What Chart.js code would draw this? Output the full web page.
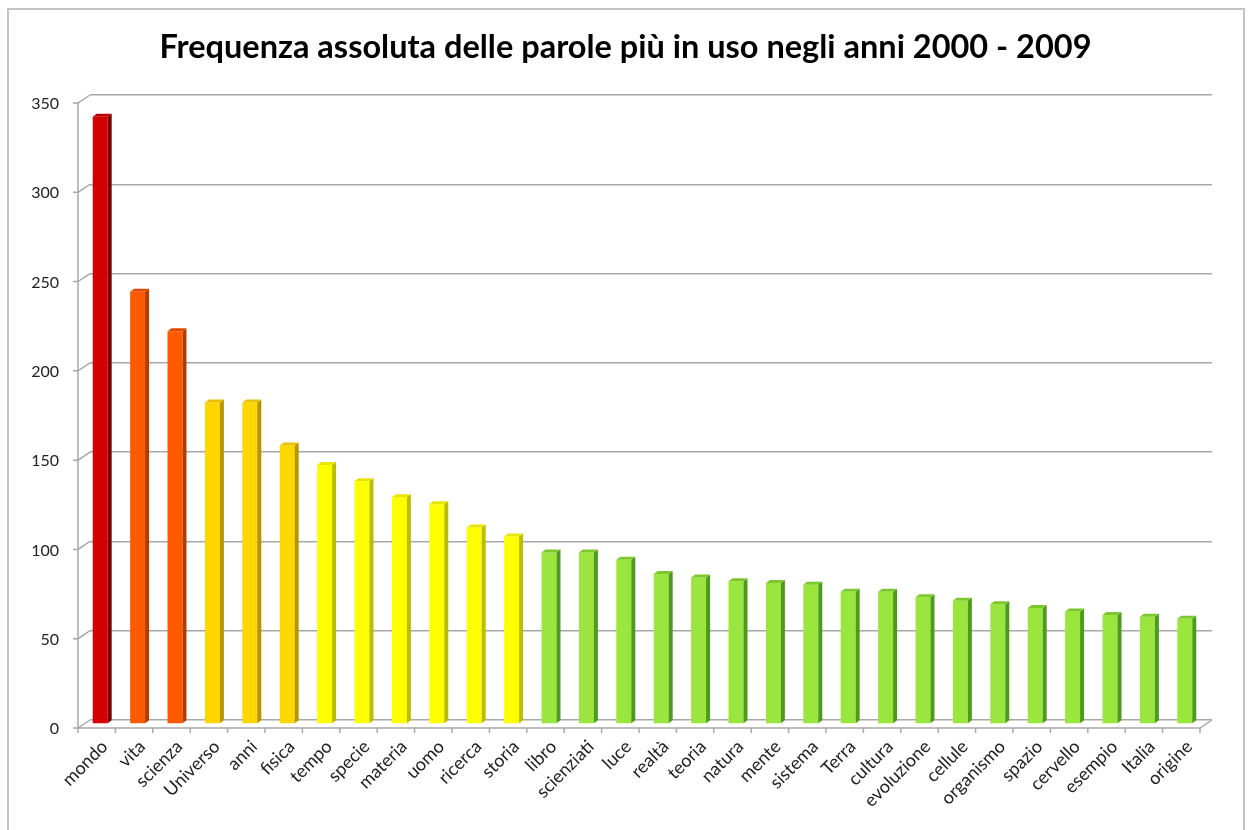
<!DOCTYPE html>
<html>
<head>
<meta charset="utf-8">
<script src="https://cdn.jsdelivr.net/npm/chart.js@4.4.1/dist/chart.umd.min.js"></script>
<style>
html,body{margin:0;padding:0;background:#fff;}
#wrap{width:1251px;height:830px;position:relative;}
</style>
</head>
<body>
<div id="wrap"><canvas id="c" width="1251" height="830"></canvas></div>
<script>
const titleText = 'Frequenza assoluta delle parole più in uso negli anni 2000 - 2009';
const categories = ['mondo','vita','scienza','Universo','anni','fisica','tempo','specie','materia','uomo','ricerca','storia','libro','scienziati','luce','realtà','teoria','natura','mente','sistema','Terra','cultura','evoluzione','cellule','organismo','spazio','cervello','esempio','Italia','origine'];
const frequencies = [340,242,220,180,180,156,145,136,127,123,110,105,96,96,92,84,82,80,79,78,74,74,71,69,67,65,63,61,60,59];
const colorGroup = [0,1,1,2,2,2,3,3,3,3,3,3,4,4,4,4,4,4,4,4,4,4,4,4,4,4,4,4,4,4];
const yTicks = [0,50,100,150,200,250,300,350];

const palette = [
  {front:'#d60000', side:'#7c0000', top:'#b80000'},
  {front:'#ff5a00', side:'#b33c00', top:'#e04a00'},
  {front:'#ffd700', side:'#b89400', top:'#e8c000'},
  {front:'#ffff00', side:'#bdbd00', top:'#e6e600'},
  {front:'#9be63e', side:'#4e9a1c', top:'#7cc82c'}
];

const WALL_DX = 12, WALL_DY = 8;
const BAR_DX = -8.5, BAR_DY = 4;
const SIDE_W = 4, CAP_H = 3;

const frame3d = {
  id: 'frame3d',
  beforeDraw(chart) {
    const ctx = chart.ctx;
    ctx.save();
    ctx.fillStyle = '#ffffff';
    ctx.fillRect(0, 0, chart.width, chart.height);
    ctx.strokeStyle = '#c4c4c4';
    ctx.lineWidth = 2;
    ctx.strokeRect(8, 9, 1236, 840);
    ctx.restore();
  },
  beforeDatasetsDraw(chart) {
    const ctx = chart.ctx, a = chart.chartArea, ys = chart.scales.y;
    ctx.save();
    ctx.strokeStyle = '#a8a8a8';
    ctx.lineWidth = 1.5;
    const fl = a.left - WALL_DX;
    ctx.beginPath();
    ctx.moveTo(fl, ys.getPixelForValue(350) + WALL_DY);
    ctx.lineTo(fl, ys.getPixelForValue(0) + WALL_DY);
    ctx.stroke();
    yTicks.forEach(v => {
      const y = ys.getPixelForValue(v);
      ctx.beginPath();
      ctx.moveTo(fl - 5, y + WALL_DY);
      ctx.lineTo(fl, y + WALL_DY);
      ctx.lineTo(a.left, y);
      ctx.stroke();
    });
    const yb = ys.getPixelForValue(0);
    ctx.beginPath();
    ctx.moveTo(fl, yb + WALL_DY);
    ctx.lineTo(a.right - WALL_DX, yb + WALL_DY);
    ctx.lineTo(a.right, yb);
    ctx.stroke();
    const n = categories.length;
    const step = (a.right - a.left) / n;
    for (let k = 0; k <= n; k++) {
      const x = fl + k * step;
      ctx.beginPath();
      ctx.moveTo(x, yb + WALL_DY);
      ctx.lineTo(x, yb + WALL_DY + 5);
      ctx.stroke();
    }
    ctx.restore();
    ctx.save();
    ctx.translate(BAR_DX, BAR_DY);
  },
  afterDatasetsDraw(chart) {
    const ctx = chart.ctx;
    const meta = chart.getDatasetMeta(0);
    meta.data.forEach((bar, i) => {
      const p = palette[colorGroup[i]];
      const half = bar.width / 2;
      const l = bar.x - half, r = bar.x + half, t = bar.y, b = bar.base;
      ctx.fillStyle = p.side;
      ctx.beginPath();
      ctx.moveTo(r, t);
      ctx.lineTo(r + SIDE_W, t - CAP_H);
      ctx.lineTo(r + SIDE_W, b - CAP_H);
      ctx.lineTo(r, b);
      ctx.closePath();
      ctx.fill();
      ctx.fillStyle = p.top;
      ctx.beginPath();
      ctx.moveTo(l, t);
      ctx.lineTo(l + SIDE_W, t - CAP_H);
      ctx.lineTo(r + SIDE_W, t - CAP_H);
      ctx.lineTo(r, t);
      ctx.closePath();
      ctx.fill();
    });
    ctx.restore();
  }
};

new Chart(document.getElementById('c'), {
  type: 'bar',
  data: {
    labels: categories,
    datasets: [{
      data: frequencies,
      backgroundColor: colorGroup.map(g => palette[g].front),
      borderWidth: 0,
      categoryPercentage: 1,
      barPercentage: 0.4,
      clip: false
    }]
  },
  options: {
    responsive: false,
    animation: false,
    devicePixelRatio: 1,
    layout: { padding: 0 },
    plugins: {
      legend: { display: false },
      tooltip: { enabled: false },
      title: {
        display: true,
        text: titleText,
        color: '#000000',
        font: { family: 'Lato', size: 32.5, weight: 'bold', lineHeight: 1.2 },
        padding: { top: 28, bottom: 28 }
      }
    },
    scales: {
      x: {
        grid: { display: false, drawTicks: false },
        border: { display: false },
        ticks: {
          autoSkip: false,
          maxRotation: 45, minRotation: 45,
          color: '#222222',
          font: { family: 'Lato', size: 18 },
          padding: 16,
          labelOffset: -4
        },
        afterFit(s) { s.height = 110; }
      },
      y: {
        min: 0, max: 350,
        grid: { color: '#a8a8a8', lineWidth: 1.5, drawTicks: false },
        border: { display: false },
        ticks: {
          stepSize: 50,
          color: '#222222',
          font: { family: 'Lato', size: 16 },
          padding: 31,
          labelOffset: 9
        },
        afterFit(s) { s.width = 90; }
      },
      yRight: {
        position: 'right',
        display: true,
        grid: { display: false, drawTicks: false },
        border: { display: false },
        ticks: { display: false },
        afterFit(s) { s.width = 39; }
      }
    }
  },
  plugins: [frame3d]
});
</script>
</body>
</html>
